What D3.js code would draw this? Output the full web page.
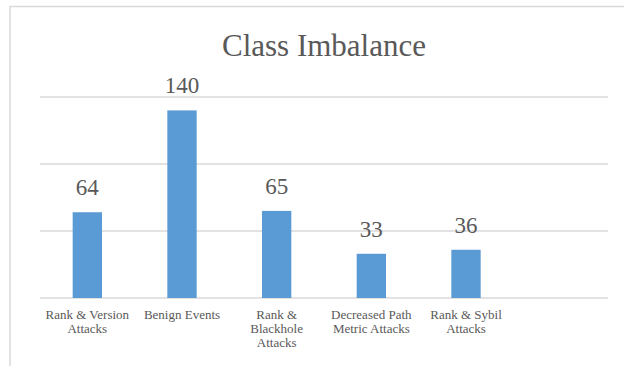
<!DOCTYPE html>
<html>
<head>
<meta charset="utf-8">
<script src="https://cdn.jsdelivr.net/npm/d3@7"></script>
<style>
  html, body { margin: 0; padding: 0; background: #ffffff; }
  svg { display: block; }
</style>
</head>
<body>
<svg id="chart" width="624" height="366"></svg>
<script>
// Chart data
const title = "Class Imbalance";
const categories = ["Rank & Version Attacks", "Benign Events", "Rank & Blackhole Attacks", "Decreased Path Metric Attacks", "Rank & Sybil Attacks"];
const counts = [64, 140, 65, 33, 36];
const gridTicks = [0, 50, 100, 150];

const W = 624, H = 366;
const plot = { left: 40, right: 608, top: 97, bottom: 298 };
const slots = 6; // category slots along the axis (last one left empty)
const FONT = "Liberation Serif, Times New Roman, serif";
const TEXT_COLOR = "#595959";

const svg = d3.select("#chart");

// Outer chart frame (only top and left edges fall inside the view)
svg.append("rect")
  .attr("x", 10).attr("y", 6.5)
  .attr("width", W + 20).attr("height", H + 20)
  .attr("fill", "none")
  .attr("stroke", "#d9d9d9")
  .attr("stroke-width", 1.5);

const x = d3.scaleBand()
  .domain(d3.range(slots))
  .range([plot.left, plot.right])
  .paddingInner(0.69)
  .paddingOuter(0.345);

const y = d3.scaleLinear()
  .domain([0, d3.max(gridTicks)])
  .range([plot.bottom, plot.top]);

// Horizontal gridlines
svg.append("g")
  .selectAll("line")
  .data(gridTicks)
  .join("line")
  .attr("x1", plot.left).attr("x2", plot.right)
  .attr("y1", d => y(d)).attr("y2", d => y(d))
  .attr("stroke", "#d9d9d9")
  .attr("stroke-width", 1.3);

// Bars
svg.append("g")
  .selectAll("rect")
  .data(counts)
  .join("rect")
  .attr("x", (d, i) => x(i))
  .attr("y", d => y(d))
  .attr("width", x.bandwidth())
  .attr("height", d => y(0) - y(d))
  .attr("fill", "#5b9bd5");

// Value labels above bars
svg.append("g")
  .selectAll("text")
  .data(counts)
  .join("text")
  .attr("x", (d, i) => x(i) + x.bandwidth() / 2)
  .attr("y", d => y(d) - 17)
  .attr("text-anchor", "middle")
  .attr("font-family", FONT)
  .attr("fill", TEXT_COLOR)
  .attr("font-size", 23)
  .text(d => d);

// Category labels, wrapped to the slot width
const maxLabelWidth = 92;
const labelGroup = svg.append("g");
categories.forEach((name, i) => {
  const cx = x(i) + x.bandwidth() / 2;
  const t = labelGroup.append("text")
    .attr("x", cx)
    .attr("y", 319)
    .attr("text-anchor", "middle")
    .attr("font-family", FONT)
    .attr("fill", TEXT_COLOR)
    .attr("font-size", 13);
  const words = name.split(" ");
  let line = [];
  let tspan = t.append("tspan").attr("x", cx).attr("dy", 0);
  words.forEach(w => {
    line.push(w);
    tspan.text(line.join(" "));
    if (tspan.node().getComputedTextLength() > maxLabelWidth && line.length > 1) {
      line.pop();
      tspan.text(line.join(" "));
      line = [w];
      tspan = t.append("tspan").attr("x", cx).attr("dy", 14).text(w);
    }
  });
});

// Title
svg.append("text")
  .attr("x", (plot.left + plot.right) / 2)
  .attr("y", 56)
  .attr("text-anchor", "middle")
  .attr("font-family", FONT)
  .attr("fill", TEXT_COLOR)
  .attr("font-size", 31)
  .text(title);
</script>
</body>
</html>
